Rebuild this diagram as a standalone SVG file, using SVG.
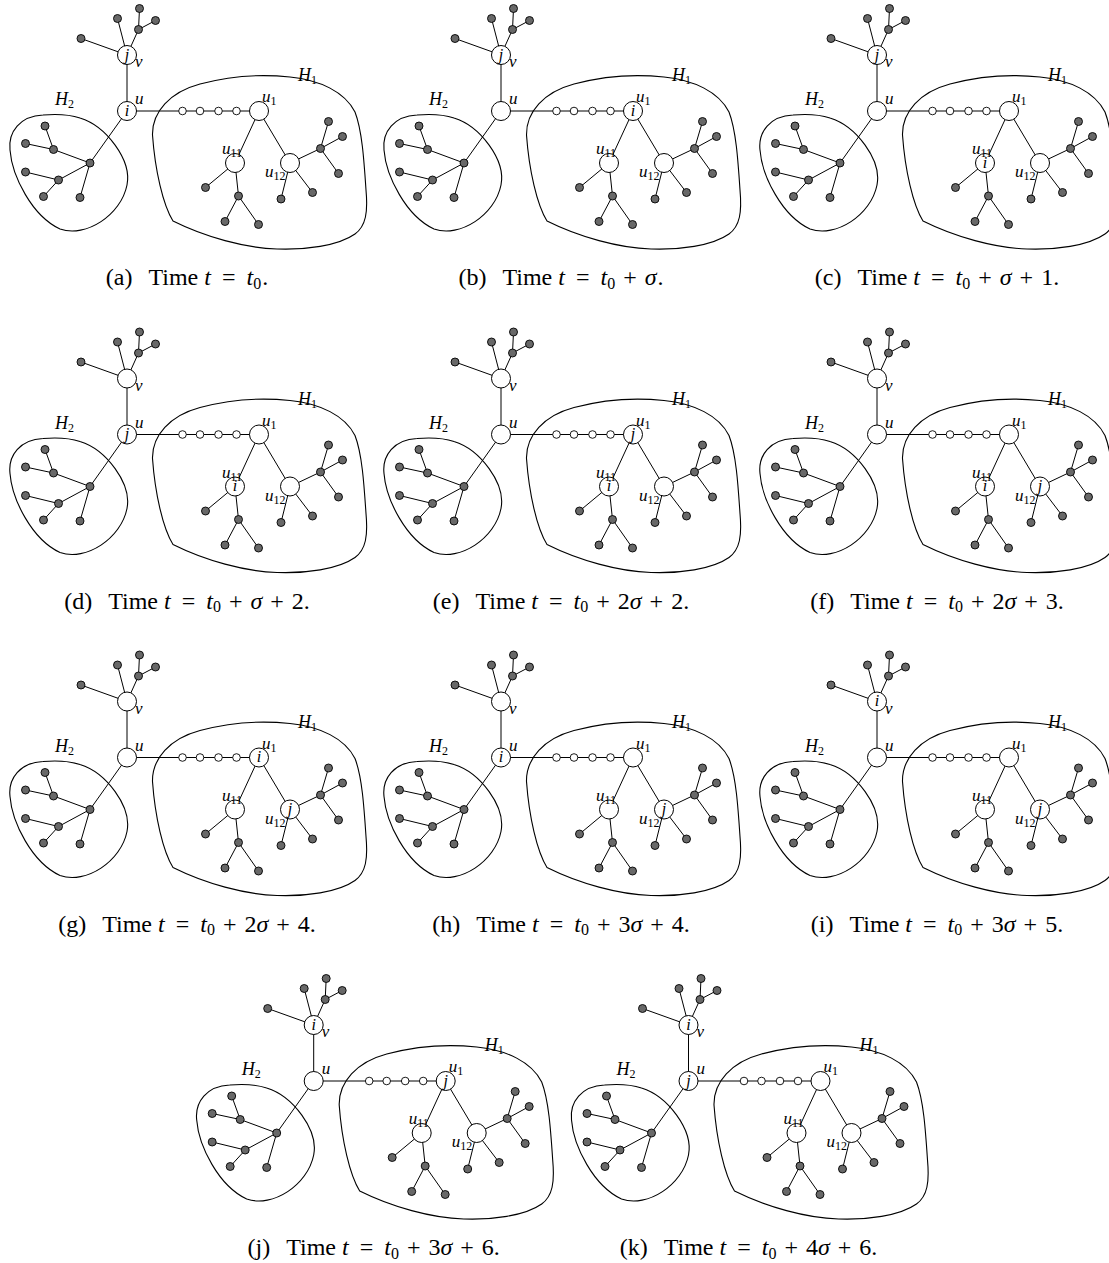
<svg xmlns="http://www.w3.org/2000/svg" width="1109" height="1263" viewBox="0 0 1109 1263">
<style>
.e{stroke:#000;stroke-width:1;fill:none}
.hull{stroke:#000;stroke-width:1.1;fill:none}
.big{fill:#fff;stroke:#000;stroke-width:1}
.sm{fill:#fff;stroke:#000;stroke-width:0.9}
.g{fill:#686868;stroke:#000;stroke-width:0.9}
.lb{font-family:"Liberation Serif",serif;font-style:italic;font-size:17px}
.hl{font-family:"Liberation Serif",serif;font-style:italic;font-size:18px}
.sub{font-size:12px;font-style:normal}
.tok{font-family:"Liberation Serif",serif;font-style:italic;font-size:16px;text-anchor:middle}
.cap{font-family:"Liberation Serif",serif;font-size:24px;text-anchor:middle}
.mi{font-style:italic}
.s0{font-size:16px}
</style>
<defs>
<!-- the tree shared by every time step -->
<g id="tree">
  <g id="connectors">
    <path class="e" d="M127,55 L81,38.5 M127,55 L117.5,18.5 M127,55 L138.5,29.5 M138.5,29.5 L139.5,8.5 M138.5,29.5 L155.5,20.5"/>
    <path class="e" d="M127,55 L127,111 M127,111 L90,163 M127,111 L259,111"/>
    <path class="e" d="M90,163 L53.5,149.5 L25.5,143.5 M53.5,149.5 L45,126 M90,163 L58.5,180 L25.5,172 M58.5,180 L43.5,196.5 M90,163 L80,197.5"/>
    <path class="e" d="M259,111 L235,163 M259,111 L290,163 M235,163 L205.5,187.5 M235,163 L238.5,196 L225,221.5 M238.5,196 L258.5,224.5"/>
    <path class="e" d="M290,163 L281,199 M290,163 L312.5,192.5 M290,163 L320.5,148.5 L328.5,121.5 M320.5,148.5 L342.5,136.5 M320.5,148.5 L338.5,173.5"/>
  </g>
  <path id="hull-H1" class="hull" d="M152.5,135 C152,112 170,92 200,84 C230,76 262,74 290,77 C320,80 345,92 355,112 C362,130 364,160 366,190 C368,212 366,226 355,234 C338,246 305,250 277,249 C245,248 205,237 173,221 C163,205 155,170 152.5,135 Z"/>
  <path id="hull-H2" class="hull" d="M43,115 C20,116 8,132 10,150 C12,176 32,216 60,229 C86,238 121,215 127,185 C132,160 106,126 80,118 C68,114 55,114 43,115 Z"/>
  <g id="node-v"><circle class="big" cx="127" cy="55" r="9.5"/></g>
  <g id="node-u"><circle class="big" cx="127" cy="111" r="9.5"/></g>
  <g id="node-u1"><circle class="big" cx="259" cy="111" r="9.5"/></g>
  <g id="node-u11"><circle class="big" cx="235" cy="163" r="9.5"/></g>
  <g id="node-u12"><circle class="big" cx="290" cy="163" r="9.5"/></g>
  <g id="path-nodes">
    <circle class="sm" cx="182.5" cy="111" r="3.8"/>
    <circle class="sm" cx="200" cy="111" r="3.8"/>
    <circle class="sm" cx="218.5" cy="111" r="3.8"/>
    <circle class="sm" cx="236.5" cy="111" r="3.8"/>
  </g>
  <g id="v-leaves">
    <circle class="g" cx="81" cy="38.5" r="4"/>
    <circle class="g" cx="117.5" cy="18.5" r="4"/>
    <circle class="g" cx="138.5" cy="29.5" r="4"/>
    <circle class="g" cx="139.5" cy="8.5" r="4"/>
    <circle class="g" cx="155.5" cy="20.5" r="4"/>
  </g>
  <g id="h2-nodes">
    <circle class="g" cx="90" cy="163" r="4"/>
    <circle class="g" cx="53.5" cy="149.5" r="4"/>
    <circle class="g" cx="25.5" cy="143.5" r="4"/>
    <circle class="g" cx="45" cy="126" r="4"/>
    <circle class="g" cx="58.5" cy="180" r="4"/>
    <circle class="g" cx="25.5" cy="172" r="4"/>
    <circle class="g" cx="43.5" cy="196.5" r="4"/>
    <circle class="g" cx="80" cy="197.5" r="4"/>
  </g>
  <g id="u11-leaves">
    <circle class="g" cx="205.5" cy="187.5" r="4"/>
    <circle class="g" cx="238.5" cy="196" r="4"/>
    <circle class="g" cx="225" cy="221.5" r="4"/>
    <circle class="g" cx="258.5" cy="224.5" r="4"/>
  </g>
  <g id="u12-leaves">
    <circle class="g" cx="281" cy="199" r="4"/>
    <circle class="g" cx="312.5" cy="192.5" r="4"/>
    <circle class="g" cx="320.5" cy="148.5" r="4"/>
    <circle class="g" cx="328.5" cy="121.5" r="4"/>
    <circle class="g" cx="342.5" cy="136.5" r="4"/>
    <circle class="g" cx="338.5" cy="173.5" r="4"/>
  </g>
  <g id="names">
    <text class="lb" x="135" y="104">u</text>
    <text class="lb" x="135" y="67">v</text>
    <text class="lb" x="262" y="102">u<tspan class="sub" dy="3">1</tspan></text>
    <text class="lb" x="222" y="154">u<tspan class="sub" dy="3">11</tspan></text>
    <text class="lb" x="265" y="177">u<tspan class="sub" dy="3">12</tspan></text>
    <text class="hl" x="298" y="81">H<tspan class="sub" dy="3">1</tspan></text>
    <text class="hl" x="55" y="105">H<tspan class="sub" dy="3">2</tspan></text>
  </g>
</g>
</defs>

<!-- row 1 -->
<g id="step-a">
  <use href="#tree"/>
  <text class="tok" x="127" y="59.5">j</text><text class="tok" x="127" y="115.5">i</text>
  <text class="cap" x="187" y="285">(a)<tspan dx="16">Time</tspan><tspan class="mi" dx="6">t</tspan><tspan dx="11">=</tspan><tspan class="mi" dx="11">t</tspan><tspan class="s0" dy="3.5">0</tspan><tspan dy="-3.5" dx="1">.</tspan></text>
</g>
<g id="step-b" transform="translate(374,0)">
  <use href="#tree"/>
  <text class="tok" x="127" y="59.5">j</text><text class="tok" x="259" y="115.5">i</text>
  <text class="cap" x="187" y="285">(b)<tspan dx="16">Time</tspan><tspan class="mi" dx="6">t</tspan><tspan dx="11">=</tspan><tspan class="mi" dx="11">t</tspan><tspan class="s0" dy="3.5">0</tspan><tspan dy="-3.5" dx="8">+</tspan><tspan class="mi" dx="8">σ</tspan><tspan dx="1">.</tspan></text>
</g>
<g id="step-c" transform="translate(750,0)">
  <use href="#tree"/>
  <text class="tok" x="127" y="59.5">j</text><text class="tok" x="235" y="167.5">i</text>
  <text class="cap" x="187" y="285">(c)<tspan dx="16">Time</tspan><tspan class="mi" dx="6">t</tspan><tspan dx="11">=</tspan><tspan class="mi" dx="11">t</tspan><tspan class="s0" dy="3.5">0</tspan><tspan dy="-3.5" dx="8">+</tspan><tspan class="mi" dx="8">σ</tspan><tspan dx="8">+</tspan><tspan dx="8">1.</tspan></text>
</g>

<!-- row 2 -->
<g id="step-d" transform="translate(0,323.5)">
  <use href="#tree"/>
  <text class="tok" x="127" y="115.5">j</text><text class="tok" x="235" y="167.5">i</text>
  <text class="cap" x="187" y="285">(d)<tspan dx="16">Time</tspan><tspan class="mi" dx="6">t</tspan><tspan dx="11">=</tspan><tspan class="mi" dx="11">t</tspan><tspan class="s0" dy="3.5">0</tspan><tspan dy="-3.5" dx="8">+</tspan><tspan class="mi" dx="8">σ</tspan><tspan dx="8">+</tspan><tspan dx="8">2.</tspan></text>
</g>
<g id="step-e" transform="translate(374,323.5)">
  <use href="#tree"/>
  <text class="tok" x="259" y="115.5">j</text><text class="tok" x="235" y="167.5">i</text>
  <text class="cap" x="187" y="285">(e)<tspan dx="16">Time</tspan><tspan class="mi" dx="6">t</tspan><tspan dx="11">=</tspan><tspan class="mi" dx="11">t</tspan><tspan class="s0" dy="3.5">0</tspan><tspan dy="-3.5" dx="8">+</tspan><tspan dx="8">2</tspan><tspan class="mi">σ</tspan><tspan dx="8">+</tspan><tspan dx="8">2.</tspan></text>
</g>
<g id="step-f" transform="translate(750,323.5)">
  <use href="#tree"/>
  <text class="tok" x="235" y="167.5">i</text><text class="tok" x="290" y="167.5">j</text>
  <text class="cap" x="187" y="285">(f)<tspan dx="16">Time</tspan><tspan class="mi" dx="6">t</tspan><tspan dx="11">=</tspan><tspan class="mi" dx="11">t</tspan><tspan class="s0" dy="3.5">0</tspan><tspan dy="-3.5" dx="8">+</tspan><tspan dx="8">2</tspan><tspan class="mi">σ</tspan><tspan dx="8">+</tspan><tspan dx="8">3.</tspan></text>
</g>

<!-- row 3 -->
<g id="step-g" transform="translate(0,646.5)">
  <use href="#tree"/>
  <text class="tok" x="259" y="115.5">i</text><text class="tok" x="290" y="167.5">j</text>
  <text class="cap" x="187" y="285">(g)<tspan dx="16">Time</tspan><tspan class="mi" dx="6">t</tspan><tspan dx="11">=</tspan><tspan class="mi" dx="11">t</tspan><tspan class="s0" dy="3.5">0</tspan><tspan dy="-3.5" dx="8">+</tspan><tspan dx="8">2</tspan><tspan class="mi">σ</tspan><tspan dx="8">+</tspan><tspan dx="8">4.</tspan></text>
</g>
<g id="step-h" transform="translate(374,646.5)">
  <use href="#tree"/>
  <text class="tok" x="127" y="115.5">i</text><text class="tok" x="290" y="167.5">j</text>
  <text class="cap" x="187" y="285">(h)<tspan dx="16">Time</tspan><tspan class="mi" dx="6">t</tspan><tspan dx="11">=</tspan><tspan class="mi" dx="11">t</tspan><tspan class="s0" dy="3.5">0</tspan><tspan dy="-3.5" dx="8">+</tspan><tspan dx="8">3</tspan><tspan class="mi">σ</tspan><tspan dx="8">+</tspan><tspan dx="8">4.</tspan></text>
</g>
<g id="step-i" transform="translate(750,646.5)">
  <use href="#tree"/>
  <text class="tok" x="127" y="59.5">i</text><text class="tok" x="290" y="167.5">j</text>
  <text class="cap" x="187" y="285">(i)<tspan dx="16">Time</tspan><tspan class="mi" dx="6">t</tspan><tspan dx="11">=</tspan><tspan class="mi" dx="11">t</tspan><tspan class="s0" dy="3.5">0</tspan><tspan dy="-3.5" dx="8">+</tspan><tspan dx="8">3</tspan><tspan class="mi">σ</tspan><tspan dx="8">+</tspan><tspan dx="8">5.</tspan></text>
</g>

<!-- row 4 -->
<g id="step-j" transform="translate(186.7,970)">
  <use href="#tree"/>
  <text class="tok" x="127" y="59.5">i</text><text class="tok" x="259" y="115.5">j</text>
  <text class="cap" x="187" y="285">(j)<tspan dx="16">Time</tspan><tspan class="mi" dx="6">t</tspan><tspan dx="11">=</tspan><tspan class="mi" dx="11">t</tspan><tspan class="s0" dy="3.5">0</tspan><tspan dy="-3.5" dx="8">+</tspan><tspan dx="8">3</tspan><tspan class="mi">σ</tspan><tspan dx="8">+</tspan><tspan dx="8">6.</tspan></text>
</g>
<g id="step-k" transform="translate(561.5,970)">
  <use href="#tree"/>
  <text class="tok" x="127" y="59.5">i</text><text class="tok" x="127" y="115.5">j</text>
  <text class="cap" x="187" y="285">(k)<tspan dx="16">Time</tspan><tspan class="mi" dx="6">t</tspan><tspan dx="11">=</tspan><tspan class="mi" dx="11">t</tspan><tspan class="s0" dy="3.5">0</tspan><tspan dy="-3.5" dx="8">+</tspan><tspan dx="8">4</tspan><tspan class="mi">σ</tspan><tspan dx="8">+</tspan><tspan dx="8">6.</tspan></text>
</g>
</svg>
